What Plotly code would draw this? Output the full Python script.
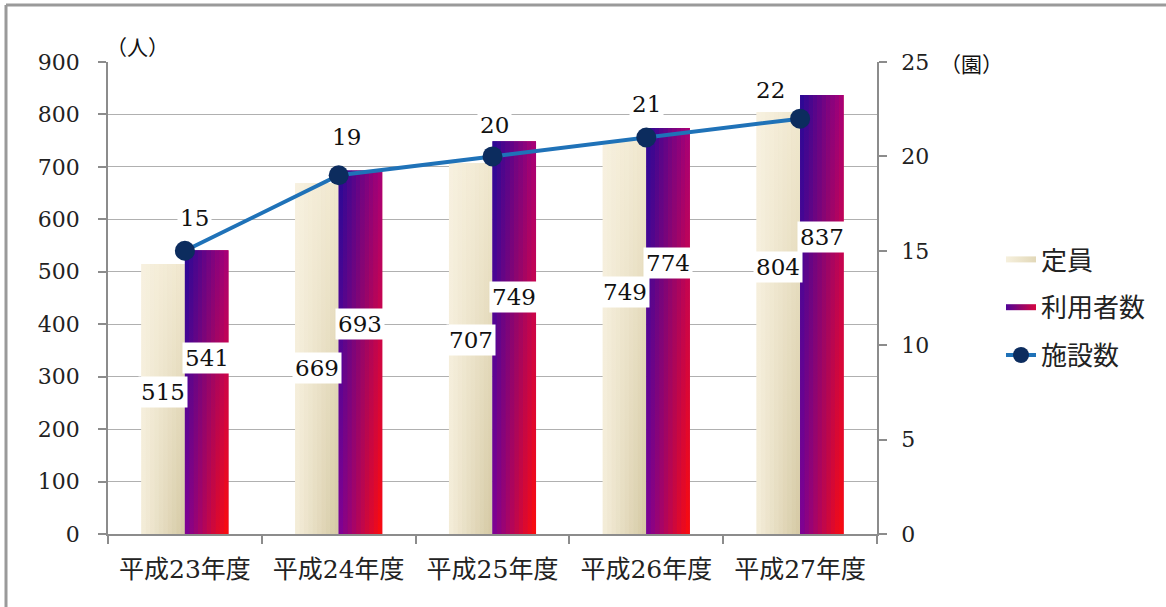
import plotly.graph_objects as go

# ---------------- data ----------------
categories = ["平成23年度", "平成24年度", "平成25年度", "平成26年度", "平成27年度"]
teiin = [515, 669, 707, 749, 804]          # 定員 (人)
riyousha = [541, 693, 749, 774, 837]       # 利用者数 (人)
shisetsu = [15, 19, 20, 21, 22]            # 施設数 (園)
left_ticks = [0, 100, 200, 300, 400, 500, 600, 700, 800, 900]
right_ticks = [0, 5, 10, 15, 20, 25]

# ---------------- style ----------------
BAR_W = 0.283
N_STRIPS = 10
NUM_FONT = "DejaVu Serif, Noto Sans CJK JP"
CJK_FONT = "Noto Sans CJK JP, DejaVu Sans"
teiin_label_y = [271, 317, 370, 461, 509]
riyousha_label_y = [336, 400, 452, 517, 566]
line_label_shift = [(10, 33), (8, 38), (2, 31), (0, 34), (-30, 29)]

# corner colours (top-left, top-right, bottom-left, bottom-right)
TEIIN_CORNERS = ((247, 241, 224), (240, 231, 205), (245, 238, 218), (212, 200, 163))
RIY_CORNERS = ((38, 8, 150), (172, 0, 118), (122, 0, 152), (255, 12, 8))

W, H = 1166, 607
ML, MR, MT, MB = 108, 289, 62, 73
PW, PH = W - ML - MR, H - MT - MB

fig = go.Figure()


def lerp(a, b, t):
    return tuple(round(a[k] + (b[k] - a[k]) * t) for k in range(3))


def rgb(c):
    return f"rgb({c[0]},{c[1]},{c[2]})"


def add_bar(i, v, left, corners, name, group, show):
    tl, tr, bl, br = corners
    x0 = i - BAR_W if left else i
    # legend / base layer: full bar with horizontal gradient
    fig.add_trace(go.Scatter(
        x=[x0, x0 + BAR_W, x0 + BAR_W, x0, x0], y=[0, 0, v, v, 0],
        mode="none", fill="toself",
        fillgradient=dict(type="horizontal",
                          colorscale=[[0, rgb(lerp(tl, bl, 0.5))], [1, rgb(lerp(tr, br, 0.5))]]),
        name=name, legendgroup=group, showlegend=show,
        hovertext=f"{categories[i]} {name}: {v}", hoverinfo="text",
    ))
    # strips with vertical gradients -> bilinear look
    sw = BAR_W / N_STRIPS
    for s in range(N_STRIPS):
        f = (s + 0.5) / N_STRIPS
        top = lerp(tl, tr, f)
        bot = lerp(bl, br, f)
        a = x0 + s * sw
        b = a + sw + (0.0015 if s < N_STRIPS - 1 else 0)
        fig.add_trace(go.Scatter(
            x=[a, b, b, a, a], y=[0, 0, v, v, 0], mode="none", fill="toself",
            fillgradient=dict(type="vertical", colorscale=[[0, rgb(bot)], [1, rgb(top)]]),
            legendgroup=group, showlegend=False, hoverinfo="skip",
        ))


for i, v in enumerate(teiin):
    add_bar(i, v, True, TEIIN_CORNERS, "定員", "a", i == 0)
for i, v in enumerate(riyousha):
    add_bar(i, v, False, RIY_CORNERS, "利用者数", "b", i == 0)

fig.add_trace(go.Scatter(
    x=list(range(len(categories))), y=shisetsu, yaxis="y2",
    mode="lines+markers", name="施設数", legendgroup="c",
    line=dict(color="#1f72b8", width=4),
    marker=dict(size=20, color="#0c2c5e"),
))

annotations = []
for i, v in enumerate(teiin):
    annotations.append(dict(x=i - BAR_W / 2, y=teiin_label_y[i], text=str(v),
                            showarrow=False, bgcolor="white", borderpad=2,
                            font=dict(family=NUM_FONT, size=23, color="#111")))
for i, v in enumerate(riyousha):
    annotations.append(dict(x=i + BAR_W / 2, y=riyousha_label_y[i], text=str(v),
                            showarrow=False, bgcolor="white", borderpad=2,
                            font=dict(family=NUM_FONT, size=23, color="#111")))
for i, v in enumerate(shisetsu):
    dx, dy = line_label_shift[i]
    annotations.append(dict(x=i, y=v, yref="y2", text=str(v), showarrow=False,
                            xshift=dx, yshift=dy, bgcolor="white", borderpad=2,
                            font=dict(family=NUM_FONT, size=23, color="#111")))
# unit labels
annotations.append(dict(xref="paper", yref="paper", x=(104 - ML) / PW, y=(H - MB - 46) / PH,
                        xanchor="left", yanchor="middle", text="（人）", showarrow=False,
                        font=dict(family=CJK_FONT, size=21, color="#111")))
annotations.append(dict(xref="paper", yref="paper", x=(938 - ML) / PW, y=(H - MB - 63) / PH,
                        xanchor="left", yanchor="middle", text="（園）", showarrow=False,
                        font=dict(family=CJK_FONT, size=21, color="#111")))

shapes = [
    dict(type="line", xref="paper", yref="paper",
         x0=(6 - ML) / PW, x1=(W - ML) / PW, y0=(H - MB - 5) / PH, y1=(H - MB - 5) / PH,
         line=dict(color="#9a9a9a", width=3)),
    dict(type="line", xref="paper", yref="paper",
         x0=(6 - ML) / PW, x1=(6 - ML) / PW, y0=(H - MB - H) / PH, y1=(H - MB - 5) / PH,
         line=dict(color="#9a9a9a", width=3)),
]

fig.update_layout(
    width=W, height=H,
    margin=dict(l=ML, r=MR, t=MT, b=MB),
    paper_bgcolor="white", plot_bgcolor="white",
    xaxis=dict(
        range=[-0.5, len(categories) - 0.5],
        tickvals=list(range(len(categories))), ticktext=categories,
        ticks="", showgrid=False, zeroline=False,
        showline=True, linecolor="#8c8c8c", linewidth=1.5,
        tickfont=dict(family=NUM_FONT, size=25, color="#222"),
        ticklabelstandoff=12,
        minor=dict(tick0=-0.5, dtick=1, ticks="outside", ticklen=8,
                   tickcolor="#8c8c8c", tickwidth=1.5, showgrid=False),
        fixedrange=True,
    ),
    yaxis=dict(
        range=[0, 900], tickvals=left_ticks,
        showgrid=True, gridcolor="#b0b0b0", gridwidth=1,
        zeroline=False, showline=True, linecolor="#8c8c8c", linewidth=1.5,
        ticks="outside", ticklen=8, tickcolor="#8c8c8c", tickwidth=1.5,
        tickfont=dict(family=NUM_FONT, size=22, color="#222"),
        ticklabelstandoff=14,
        fixedrange=True,
    ),
    yaxis2=dict(
        range=[0, 25], tickvals=right_ticks, overlaying="y", side="right",
        showgrid=False, zeroline=False, showline=True, linecolor="#8c8c8c", linewidth=1.5,
        ticks="outside", ticklen=8, tickcolor="#8c8c8c", tickwidth=1.5,
        tickfont=dict(family=NUM_FONT, size=22, color="#222"),
        ticklabelstandoff=10,
        fixedrange=True,
    ),
    legend=dict(
        x=(1001 - ML) / PW, y=(H - MB - 236) / PH, xanchor="left", yanchor="top",
        font=dict(family=CJK_FONT, size=26, color="#222"),
        traceorder="grouped", tracegroupgap=11, bgcolor="rgba(0,0,0,0)",
        itemwidth=30,
    ),
    annotations=annotations,
    shapes=shapes,
    showlegend=True,
)

fig.write_html("out.html")
